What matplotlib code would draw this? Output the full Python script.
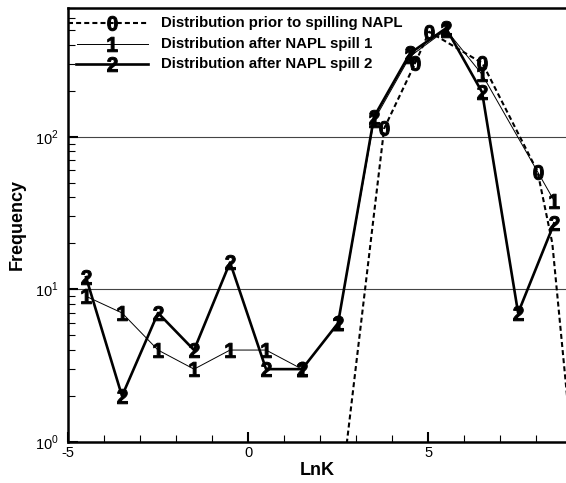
import matplotlib
matplotlib.use("Agg")
import matplotlib.pyplot as plt
from matplotlib.ticker import FixedLocator, NullFormatter, LogLocator

plt.rcParams['font.family'] = ['Liberation Sans', 'DejaVu Sans']
plt.rcParams['mathtext.fontset'] = 'custom'
plt.rcParams['mathtext.rm'] = 'Liberation Sans'
plt.rcParams['mathtext.bf'] = 'Liberation Sans:bold'

# ---- data ----
lnk_bins = [-4.5, -3.5, -2.5, -1.5, -0.5, 0.5, 1.5, 2.5, 3.5, 4.5, 5.5, 6.5, 7.5, 8.5]
freq_spill2 = [12, 2, 7, 4, 15, 3, 3, 6, 135, 351, 512, 195, 7, 27]

lnk_spill1 = [-4.5, -3.5, -2.5, -1.5, -0.5, 0.5, 1.5, 2.5, 3.5, 4.5, 5.5, 6.5, 8.5]
freq_spill1 = [9, 7, 4, 3, 4, 4, 3, 6, 128, 335, 500, 255, 38]

lnk_prior = [2.3, 3.78, 4.64, 5.03, 6.51, 8.04, 8.45, 9.0]
freq_prior = [0.13, 113, 302, 486, 302, 59, 20, 0.9]
prior_symbol_idx = [1, 2, 3, 4, 5]

legend_labels = ["Distribution prior to spilling NAPL",
                 "Distribution after NAPL spill 1",
                 "Distribution after NAPL spill 2"]

x_major = [-5, 0, 5]
x_minor = list(range(-5, 9))
y_ticks = [1, 10, 100]
y_ticklabels = [r'$10^{0}$', r'$10^{1}$', r'$10^{2}$']

# ---- figure ----
fig = plt.figure(figsize=(5.66, 4.83), dpi=100)
ax = fig.add_axes([68/566, 41/483, (566-68)/566, 434.5/483])
ax.set_yscale('log')
ax.set_xlim(-5, 8.83)
ax.set_ylim(1, 700)

for yv in [10, 100]:
    ax.axhline(yv, color='#444444', lw=0.8, zorder=1)

ms = 10.5
sym = dict(markerfacecolor='black', markeredgecolor='black', markeredgewidth=0.7, markersize=ms)

ax.plot(lnk_prior, freq_prior, color='black', lw=1.5, dashes=(2.4, 1.5),
        marker=r'$\mathbf{0}$', markevery=prior_symbol_idx, zorder=3, **sym)
ax.plot(lnk_spill1, freq_spill1, color='black', lw=0.7,
        marker=r'$\mathbf{1}$', zorder=4, **sym)
ax.plot(lnk_bins, freq_spill2, color='black', lw=1.9,
        marker=r'$\mathbf{2}$', zorder=5, **sym)

# legend (manual)
rows_y = [0.964, 0.917, 0.870]
styles = [dict(lw=1.5, dashes=(2.4, 1.5), marker=r'$\mathbf{0}$', x0=0.0),
          dict(lw=0.7, marker=r'$\mathbf{1}$', x0=0.018),
          dict(lw=1.9, marker=r'$\mathbf{2}$', x0=0.016)]
for yy, st, lab in zip(rows_y, styles, legend_labels):
    kw = dict(color='black', lw=st['lw'], transform=ax.transAxes, clip_on=False, zorder=6)
    if 'dashes' in st:
        kw['dashes'] = st['dashes']
    ax.plot([st['x0'], 0.161], [yy, yy], **kw)
    ax.plot([0.088], [yy], linestyle='none', marker=st['marker'], transform=ax.transAxes,
            clip_on=False, zorder=7, **sym)
    ax.text(0.187, yy, lab, transform=ax.transAxes, ha='left', va='center',
            fontsize=10.8, fontweight='bold', zorder=7)

# axes styling
for s in ['left', 'bottom', 'top']:
    ax.spines[s].set_linewidth(1.8)
ax.spines['right'].set_visible(False)

ax.xaxis.set_major_locator(FixedLocator(x_major))
ax.xaxis.set_minor_locator(FixedLocator(x_minor))
ax.set_xticklabels([str(v) for v in x_major])
ax.set_yticks(y_ticks)
ax.set_yticklabels(y_ticklabels)
ax.yaxis.set_minor_locator(LogLocator(base=10, subs=range(2, 10)))
ax.yaxis.set_minor_formatter(NullFormatter())

ax.tick_params(axis='both', which='major', direction='in', length=7, width=1.5,
               labelsize=10.5, top=False, right=False)
ax.tick_params(axis='both', which='minor', direction='in', length=4.7, width=0.8,
               top=False, right=False)
ax.tick_params(axis='x', which='major', pad=3)
ax.tick_params(axis='y', which='major', pad=7)

ax.set_xlabel('LnK', fontsize=13, fontweight='bold', labelpad=1)
ax.set_ylabel('Frequency', fontsize=13, fontweight='bold', labelpad=6)

fig.savefig('out.png', dpi=100)
